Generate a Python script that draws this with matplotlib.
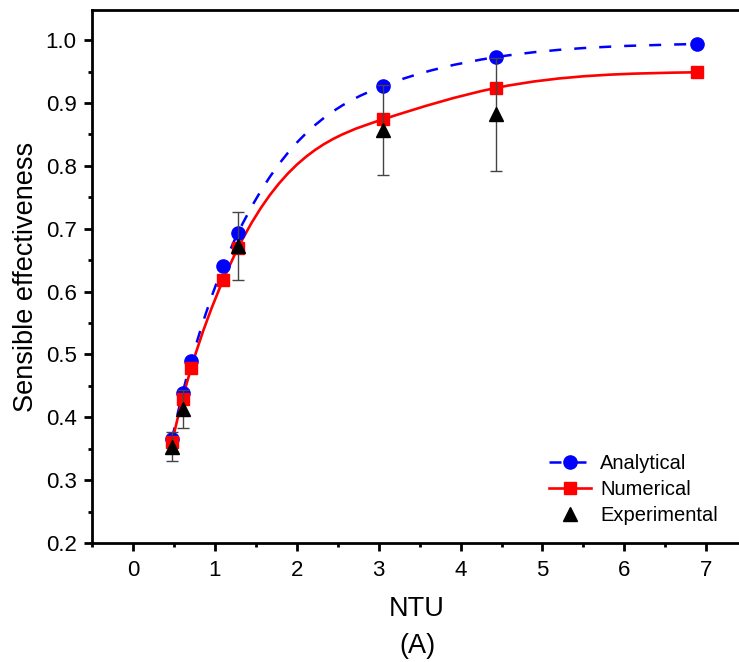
import numpy as np
import matplotlib
matplotlib.use("Agg")
import matplotlib.pyplot as plt
from matplotlib.path import Path
from matplotlib.patches import PathPatch
from matplotlib.lines import Line2D
from matplotlib.ticker import MultipleLocator, FormatStrFormatter

plt.rcParams['font.family'] = ['Liberation Sans', 'DejaVu Sans']

# data
ntu = [0.476, 0.605, 0.71, 1.10, 1.285, 3.05, 4.43, 6.89]
analytical = [0.365, 0.438, 0.489, 0.640, 0.694, 0.927, 0.973, 0.994]
numerical = [0.360, 0.429, 0.478, 0.618, 0.670, 0.874, 0.924, 0.949]

exp_ntu = [0.476, 0.605, 1.285, 3.05, 4.43]
experimental = [0.353, 0.413, 0.672, 0.857, 0.882]
exp_err = [0.023, 0.030, 0.054, 0.071, 0.090]


def spline_path(x, y):
    # natural cubic spline through the points, drawn as bezier segments
    x = np.asarray(x, float)
    y = np.asarray(y, float)
    n = len(x)
    h = np.diff(x)
    d = np.diff(y) / h
    A = np.zeros((n, n))
    b = np.zeros(n)
    A[0, 0] = 1
    A[-1, -1] = 1
    for i in range(1, n - 1):
        A[i, i - 1] = h[i - 1]
        A[i, i] = 2 * (h[i - 1] + h[i])
        A[i, i + 1] = h[i]
        b[i] = 6 * (d[i] - d[i - 1])
    M = np.linalg.solve(A, b)
    m = np.zeros(n)
    m[:-1] = d - h * (2 * M[:-1] + M[1:]) / 6
    m[-1] = d[-1] + h[-1] * (M[-2] + 2 * M[-1]) / 6
    verts = [(x[0], y[0])]
    codes = [Path.MOVETO]
    for i in range(n - 1):
        verts += [(x[i] + h[i] / 3, y[i] + m[i] * h[i] / 3),
                  (x[i + 1] - h[i] / 3, y[i + 1] - m[i + 1] * h[i] / 3),
                  (x[i + 1], y[i + 1])]
        codes += [Path.CURVE4] * 3
    return Path(verts, codes)


fig = plt.figure(figsize=(7.39, 6.62), dpi=100)
ax = fig.add_axes([0.1245, 0.1798, 0.88, 0.805])

dash = (0, (4.8, 5.2))
ax.add_patch(PathPatch(spline_path(ntu, analytical), fill=False, edgecolor='#0000ff',
                       lw=1.8, linestyle=dash, zorder=2))
ax.add_patch(PathPatch(spline_path(ntu, numerical), fill=False, edgecolor='#ff0000',
                       lw=1.9, zorder=3))

ax.plot(ntu, analytical, 'o', color='#0000ff', ms=9.5, zorder=4)
ax.plot(ntu, numerical, 's', color='#ff0000', ms=8.5, zorder=5)
ax.errorbar(exp_ntu, experimental, yerr=exp_err, fmt='^', color='k', ms=10,
            ecolor='#444444', elinewidth=1, capsize=4, capthick=1, zorder=6)

ax.set_xlim(-0.5, 7.44)
ax.set_ylim(0.2, 1.048)
ax.xaxis.set_major_locator(MultipleLocator(1))
ax.xaxis.set_minor_locator(MultipleLocator(0.5))
ax.yaxis.set_major_locator(MultipleLocator(0.1))
ax.yaxis.set_minor_locator(MultipleLocator(0.05))
ax.yaxis.set_major_formatter(FormatStrFormatter('%.1f'))

for s in ['left', 'bottom', 'top']:
    ax.spines[s].set_linewidth(2.0)
ax.spines['right'].set_visible(False)
ax.tick_params(which='major', direction='out', length=6, width=2.0, labelsize=16)
ax.tick_params(axis='y', which='major', pad=5)
ax.tick_params(axis='x', which='major', pad=6)
ax.tick_params(which='minor', direction='out', length=3, width=2.0)

ax.set_xlabel('NTU\n(A)', fontsize=19.5, labelpad=11, linespacing=1.55)
ax.set_ylabel('Sensible effectiveness', fontsize=19.5, labelpad=5)

handles = [
    Line2D([], [], color='#0000ff', ls=dash, lw=1.8, marker='o', ms=9.5),
    Line2D([], [], color='#ff0000', lw=1.9, marker='s', ms=8.5),
    Line2D([], [], color='k', ls='none', marker='^', ms=10),
]
ax.legend(handles, ['Analytical', 'Numerical', 'Experimental'], loc='lower right',
          bbox_to_anchor=(0.99, 0.0), frameon=False, fontsize=14.5,
          handlelength=2.1, handletextpad=0.45, labelspacing=0.35)

fig.savefig('out.png', dpi=100)
